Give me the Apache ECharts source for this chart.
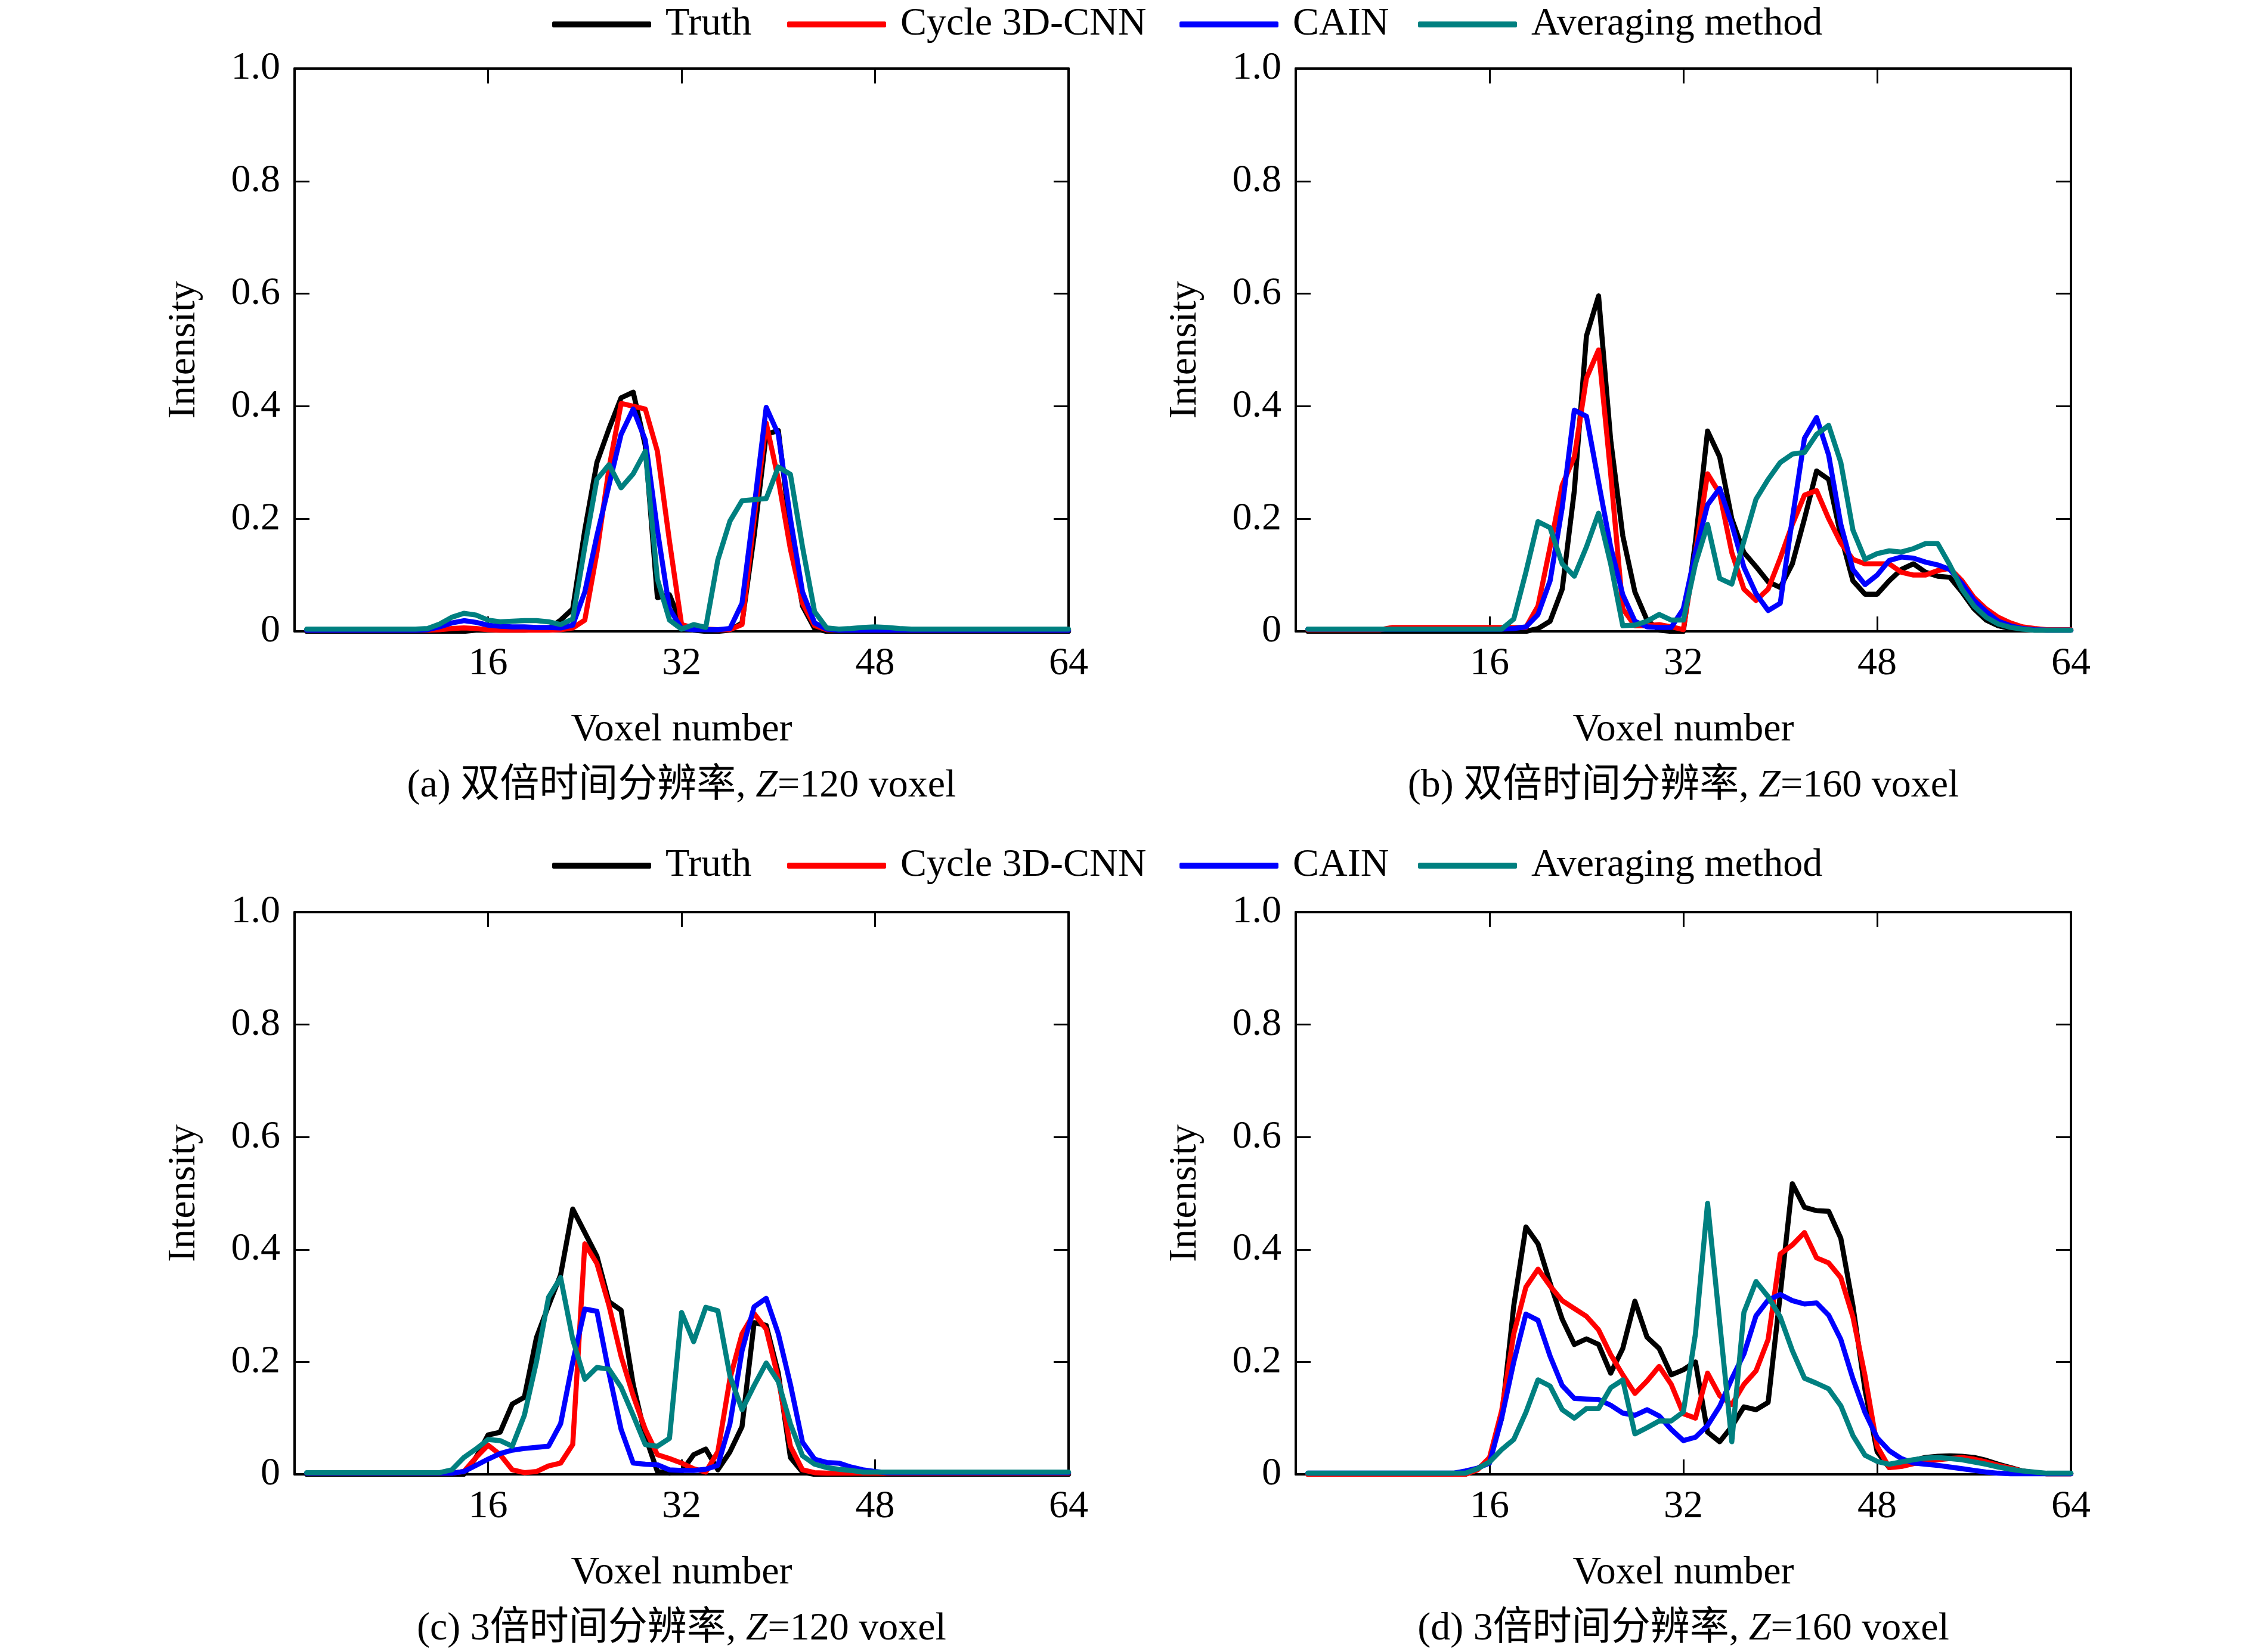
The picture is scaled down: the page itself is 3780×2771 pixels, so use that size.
<!DOCTYPE html>
<html>
<head>
<meta charset="utf-8">
<script src="https://cdn.jsdelivr.net/npm/echarts@6/dist/echarts.min.js"></script>
<style>
html,body{margin:0;padding:0;background:#fff;}
#chart{width:3780px;height:2771px;}
</style>
</head>
<body>
<div id="chart"></div>
<script>
// ---------------- data ----------------
const voxels = [1,2,3,4,5,6,7,8,9,10,11,12,13,14,15,16,17,18,19,20,21,22,23,24,25,26,27,28,29,30,31,32,
  33,34,35,36,37,38,39,40,41,42,43,44,45,46,47,48,49,50,51,52,53,54,55,56,57,58,59,60,61,62,63,64];
const seriesNames = ['Truth', 'Cycle 3D-CNN', 'CAIN', 'Averaging method'];
const xTicks = [0, 16, 32, 48, 64];
const yTicks = [0, 0.2, 0.4, 0.6, 0.8, 1.0];
const captions = [
  '(a) 双倍时间分辨率, {i|Z}=120 voxel',
  '(b) 双倍时间分辨率, {i|Z}=160 voxel',
  '(c) 3倍时间分辨率, {i|Z}=120 voxel',
  '(d) 3倍时间分辨率, {i|Z}=160 voxel'
];

// (a) double temporal resolution, Z=120
const a_truth = [0,0,0,0,0,0,0,0,0,0,0,0,0,0,
  0.002,0.002,0.002,0.002,0.002,0.003,0.005,
  0.02,0.04,0.18,0.30,0.36,0.415,0.425,0.33,0.06,0.065,0.012,0.002,0,0,0.002,0.015,0.17,0.35,0.357,0.18,0.045,0.005,
  0,0,0,0,0,0,0,0,0,0,0,0,0,0,0,0,0,0,0,0,0];
const a_cycle = [0.002,0.002,0.002,0.002,0.002,0.002,0.002,0.002,0.002,0.002,0.002,
  0.003,0.005,0.006,0.005,0.003,
  0.002,0.002,0.002,0.002,0.002,0.003,
  0.006,0.02,0.14,0.29,0.405,0.40,0.395,0.32,0.16,0.012,0.006,0.004,0.003,0.003,0.012,0.2,0.37,0.27,0.146,0.05,0.01,0.003,
  0.002,0.002,0.002,0.002,0.002,0.002,0.002,0.002,0.002,0.002,0.002,0.002,0.002,0.002,0.002,0.002,0.002,0.002,0.002,0.002];
const a_cain = [0.002,0.002,0.002,0.002,0.002,0.002,0.002,0.002,0.002,0.002,0.003,
  0.008,0.015,0.019,0.016,0.011,0.009,0.008,0.008,0.007,0.007,0.006,
  0.011,0.07,0.17,0.26,0.35,0.395,0.34,0.18,0.04,0.005,0.003,0.003,0.003,0.005,0.05,0.22,0.398,0.35,0.2,0.07,0.015,0.004,
  0.002,0.002,0.002,0.002,0.002,0.002,0.002,0.002,0.002,0.002,0.002,0.002,0.002,0.002,0.002,0.002,0.002,0.002,0.002,0.002];
const a_avg = [0.004,0.004,0.004,0.004,0.004,0.004,0.004,0.004,0.004,0.004,
  0.005,0.013,0.025,0.032,0.029,0.02,0.017,0.018,0.019,0.019,0.017,0.012,0.022,0.15,0.27,0.296,0.255,0.28,0.32,0.093,
  0.02,0.004,0.012,0.007,0.127,0.196,0.232,0.234,0.236,0.292,0.279,0.15,0.035,0.006,0.004,0.005,0.007,0.008,0.007,0.005,
  0.004,0.004,0.004,0.004,0.004,0.004,0.004,0.004,0.004,0.004,0.004,0.004,0.004,0.004];

// (b) double temporal resolution, Z=160
const b_truth = [0,0,0,0,0,0,0,0,0,0,0,0,0,0,0,0,0,0,0,
  0.005,0.018,0.075,0.25,0.525,0.596,0.34,0.17,0.07,0.02,0.002,0,0,0.16,0.356,0.31,0.2,0.14,0.115,0.088,0.078,
  0.12,0.2,0.285,0.27,0.17,0.09,0.066,0.066,0.09,0.11,0.12,0.105,0.098,0.096,0.07,0.04,0.02,0.01,0.005,0.003,
  0.002,0.002,0.002,0.002];
const b_cycle = [0.003,0.003,0.003,0.003,0.003,0.003,0.003,
  0.007,0.007,0.007,0.007,0.007,0.007,0.007,0.007,0.007,0.007,0.007,0.007,
  0.045,0.15,0.26,0.31,0.45,0.5,0.28,0.04,0.01,0.01,0.012,0.008,0.003,0.14,0.28,0.245,0.14,0.075,0.055,0.075,0.13,
  0.19,0.242,0.25,0.2,0.157,0.128,0.12,0.12,0.12,0.105,0.1,0.1,0.108,0.112,0.09,0.06,0.04,0.025,0.015,0.008,0.005,
  0.003,0.003,0.003];
const b_cain = [0.004,0.004,0.004,0.004,0.004,0.004,0.004,0.004,0.004,0.004,0.004,0.004,0.004,0.004,0.004,0.004,0.004,
  0.005,0.008,0.03,0.09,0.22,0.393,0.382,0.265,0.15,0.065,0.018,0.008,0.007,0.007,0.04,0.14,0.225,0.254,0.19,0.114,
  0.067,0.037,0.05,0.2,0.343,0.38,0.313,0.19,0.11,0.083,0.1,0.126,0.132,0.13,0.123,0.118,0.11,0.085,0.055,0.035,
  0.018,0.01,0.005,0.003,0.002,0.002,0.002];
const b_avg = [0.004,0.004,0.004,0.004,0.004,0.004,0.004,0.004,0.004,0.004,0.004,0.004,0.004,0.004,0.004,0.004,0.004,
  0.022,0.105,0.195,0.184,0.12,0.098,0.15,0.21,0.12,0.01,0.011,0.018,0.03,0.02,0.02,0.12,0.19,0.094,0.084,0.16,
  0.235,0.27,0.3,0.315,0.318,0.35,0.366,0.3,0.18,0.128,0.138,0.143,0.141,0.147,0.156,0.156,0.118,0.075,0.045,0.025,
  0.013,0.007,0.004,0.002,0.002,0.002,0.002];

// (c) triple temporal resolution, Z=120
const c_truth = [0,0,0,0,0,0,0,0,0,0,0,0,0,0,
  0.03,0.07,0.075,0.125,0.137,0.243,0.3,0.355,0.472,0.43,0.388,0.307,0.292,0.16,0.068,0.005,0.002,0.005,0.035,0.045,
  0.008,0.04,0.085,0.27,0.265,0.18,0.03,0.004,
  0,0,0,0,0,0,0,0,0,0,0,0,0,0,0,0,0,0,0,0,0,0];
const c_cycle = [0.002,0.002,0.002,0.002,0.002,0.002,0.002,0.002,0.002,0.002,0.002,0.002,0.002,
  0.005,0.03,0.052,0.035,0.008,0.003,0.005,0.015,0.02,0.053,0.41,0.375,0.3,0.21,0.14,0.08,0.035,0.028,0.02,0.01,
  0.004,0.04,0.17,0.25,0.286,0.258,0.17,0.05,0.008,0.003,
  0.002,0.002,0.002,0.002,0.002,0.002,0.002,0.002,0.002,0.002,0.002,0.002,0.002,0.002,0.002,0.002,0.002,0.002,0.002,0.002,0.002];
const c_cain = [0.002,0.002,0.002,0.002,0.002,0.002,0.002,0.002,0.002,0.002,0.002,0.002,0.002,
  0.005,0.016,0.027,0.037,0.043,0.046,0.048,0.05,0.09,0.2,0.294,0.29,0.18,0.08,0.02,0.018,0.017,0.008,0.007,0.007,
  0.009,0.016,0.09,0.22,0.298,0.313,0.25,0.16,0.057,0.027,0.021,0.02,0.013,0.008,0.005,
  0.003,0.003,0.003,0.003,0.003,0.003,0.003,0.003,0.003,0.003,0.003,0.003,0.003,0.003,0.003,0.003];
const c_avg = [0.003,0.003,0.003,0.003,0.003,0.003,0.003,0.003,0.003,0.003,0.003,0.003,
  0.008,0.03,0.045,0.062,0.06,0.05,0.105,0.2,0.315,0.35,0.24,0.169,0.19,0.187,0.155,0.105,0.053,0.05,0.064,0.288,
  0.236,0.297,0.291,0.175,0.115,0.158,0.198,0.165,0.09,0.033,0.018,0.012,0.009,0.007,
  0.004,0.004,0.004,0.004,0.004,0.004,0.004,0.004,0.004,0.004,0.004,0.004,0.004,0.004,0.004,0.004,0.004,0.004];

// (d) triple temporal resolution, Z=160
const d_truth = [0,0,0,0,0,0,0,0,0,0,0,0,0,0,
  0.01,0.025,0.1,0.3,0.44,0.41,0.34,0.276,0.231,0.241,0.231,0.18,0.224,0.308,0.244,0.224,0.177,0.186,0.2,0.075,
  0.058,0.085,0.12,0.115,0.128,0.32,0.517,0.475,0.469,0.468,0.42,0.3,0.15,0.04,0.012,0.02,0.025,0.03,0.032,0.033,
  0.032,0.03,0.025,0.018,0.012,0.006,0.003,
  0.001,0.001,0.001];
const d_cycle = [0,0,0,0,0,0,0,0,0,0,0,0,0,0,
  0.008,0.03,0.113,0.25,0.333,0.365,0.335,0.309,0.295,0.281,0.257,0.213,0.177,0.144,0.166,0.192,0.16,0.108,0.1,0.18,
  0.14,0.124,0.16,0.184,0.24,0.392,0.408,0.43,0.385,0.376,0.35,0.28,0.175,0.05,0.012,0.014,0.019,0.023,0.026,0.028,
  0.03,0.027,0.022,0.016,0.011,0.006,0.003,
  0.001,0.001,0.001];
const d_cain = [0.002,0.002,0.002,0.002,0.002,0.002,0.002,0.002,0.002,0.002,0.002,0.002,0.002,
  0.006,0.011,0.02,0.1,0.2,0.285,0.274,0.21,0.158,0.135,0.134,0.133,0.123,0.109,0.105,0.115,0.104,0.08,0.06,0.066,
  0.087,0.121,0.17,0.214,0.282,0.31,0.32,0.309,0.303,0.305,0.283,0.24,0.17,0.11,0.065,0.042,0.028,0.02,0.018,0.016,
  0.013,0.01,0.007,0.004,0.002,
  0.001,0.001,0.001,0.001,0.001,0.001];
const d_avg = [0.002,0.002,0.002,0.002,0.002,0.002,0.002,0.002,0.002,0.002,0.002,0.002,0.002,0.002,
  0.01,0.022,0.044,0.062,0.11,0.168,0.157,0.115,0.1,0.117,0.117,0.154,0.168,0.072,0.083,0.095,0.095,0.111,0.25,0.482,
  0.27,0.058,0.288,0.343,0.316,0.28,0.22,0.171,0.162,0.152,0.122,0.069,0.034,0.023,0.018,0.022,0.026,0.029,0.03,0.028,
  0.026,0.022,0.018,0.013,0.009,0.006,0.004,
  0.002,0.002,0.002];

const panels = [
  [a_truth, a_cycle, a_cain, a_avg],
  [b_truth, b_cycle, b_cain, b_avg],
  [c_truth, c_cycle, c_cain, c_avg],
  [d_truth, d_cycle, d_cain, d_avg]
];

// ---------------- styling / layout ----------------
const FONT = "'Liberation Serif','Times New Roman','Noto Sans CJK SC',serif";
const FS = 66;
const colors = ['#000000', '#ff0000', '#0000ff', '#008080'];
const grids = [
  {left: 494,  top: 115,  width: 1298, height: 944},
  {left: 2173, top: 115,  width: 1300, height: 944},
  {left: 494,  top: 1530, width: 1298, height: 943},
  {left: 2173, top: 1530, width: 1300, height: 943}
];
const legendRows = [41, 1452];
const legendLefts = [926, 1320, 1978, 2378];

const axisLine = {show: true, onZero: false, lineStyle: {color: '#000', width: 4}};
const axisTick = {show: true, inside: true, length: 25, lineStyle: {color: '#000', width: 3}};
const txt = {fontSize: FS, fontFamily: FONT, color: '#000'};

const xAxis = [], yAxis = [], series = [], title = [], legend = [];
grids.forEach((g, i) => {
  xAxis.push({
    gridIndex: i, type: 'value', position: 'bottom',
    min: xTicks[0], max: xTicks[xTicks.length - 1], interval: xTicks[1] - xTicks[0],
    axisLine, axisTick, splitLine: {show: false},
    axisLabel: Object.assign({margin: 22, formatter: v => (v === 0 ? '' : String(v))}, txt),
    name: 'Voxel number', nameLocation: 'middle', nameGap: 133, nameTextStyle: txt
  });
  xAxis.push({
    gridIndex: i, type: 'value', position: 'top',
    min: xTicks[0], max: xTicks[xTicks.length - 1], interval: xTicks[1] - xTicks[0],
    axisLine, axisTick, splitLine: {show: false}, axisLabel: {show: false}
  });
  yAxis.push({
    gridIndex: i, type: 'value', position: 'left',
    min: yTicks[0], max: yTicks[yTicks.length - 1], interval: yTicks[1] - yTicks[0],
    axisLine, axisTick, splitLine: {show: false},
    axisLabel: Object.assign({margin: 24, formatter: v => (v === 0 ? '0' : v.toFixed(1))}, txt),
    name: 'Intensity', nameLocation: 'middle', nameGap: 152, nameRotate: 90, nameTextStyle: txt
  });
  yAxis.push({
    gridIndex: i, type: 'value', position: 'right',
    min: yTicks[0], max: yTicks[yTicks.length - 1], interval: yTicks[1] - yTicks[0],
    axisLine, axisTick, splitLine: {show: false}, axisLabel: {show: false}
  });
  panels[i].forEach((vals, k) => {
    series.push({
      name: seriesNames[k], type: 'line',
      xAxisIndex: 2 * i, yAxisIndex: 2 * i,
      data: voxels.map((x, j) => [x, vals[j]]),
      showSymbol: false, symbol: 'none', smooth: false,
      lineStyle: {color: colors[k], width: 8.5, join: 'round', cap: 'round'},
      itemStyle: {color: colors[k]},
      emphasis: {disabled: true}, z: 2 + k
    });
  });
  title.push({
    text: captions[i], padding: 0,
    left: g.left + g.width / 2, top: g.top + g.height + 227, textAlign: 'center',
    textStyle: Object.assign({fontWeight: 'normal', lineHeight: FS,
      rich: {i: {fontStyle: 'italic', fontSize: FS, fontFamily: FONT, color: '#000', lineHeight: FS}}}, txt)
  });
});
legendRows.forEach(y => {
  seriesNames.forEach((n, k) => {
    legend.push({
      data: [n], left: legendLefts[k], top: y - FS / 2, padding: 0,
      icon: 'roundRect', itemWidth: 166, itemHeight: 10, selectedMode: false,
      textStyle: Object.assign({padding: [0, 0, 0, 19], lineHeight: FS}, txt)
    });
  });
});

const chart = echarts.init(document.getElementById('chart'), null, {renderer: 'canvas'});
chart.setOption({
  backgroundColor: '#fff', animation: false,
  grid: grids.map(g => Object.assign({containLabel: false}, g)),
  xAxis, yAxis, series, title, legend
});
</script>
</body>
</html>
